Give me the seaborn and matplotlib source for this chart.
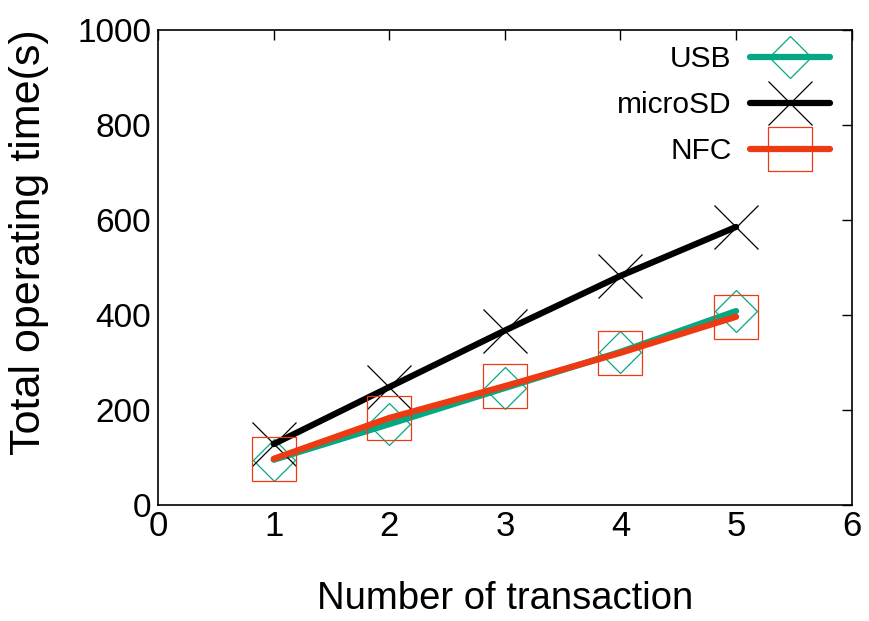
import numpy as np
import matplotlib
matplotlib.use("Agg")
import matplotlib.pyplot as plt
import pandas as pd
import seaborn as sns

transactions = [1, 2, 3, 4, 5]
usb = [95, 170, 246, 322, 408]
microsd = [128, 248, 367, 482, 585]
nfc = [97, 183, 250, 320, 396]

df = pd.DataFrame({"x": transactions, "USB": usb, "microSD": microsd, "NFC": nfc})

sns.set_style("white")
plt.rcParams['font.family'] = ['Liberation Sans', 'DejaVu Sans']
plt.rcParams['text.color'] = 'black'
plt.rcParams['axes.labelcolor'] = 'black'
plt.rcParams['xtick.color'] = 'black'
plt.rcParams['ytick.color'] = 'black'

fig = plt.figure(figsize=(8.69, 6.21), dpi=100)
ax = fig.add_axes([0.182, 0.187, 0.798, 0.765])

styles = [
    ("USB", "#05a882", "D", 21.5),
    ("microSD", "black", "x", 31.5),
    ("NFC", "#ee3a12", "s", 31.5),
]
for name, col, mk, ms in styles:
    sns.lineplot(data=df, x="x", y=name, ax=ax, color=col, lw=4.5, marker=mk, ms=ms,
                 mfc="none", mec=col, mew=0.9, label=name)

ax.set_xlim(0, 6)
ax.set_ylim(0, 1000)
ax.set_xticks(range(0, 7))
ax.set_yticks(range(0, 1001, 200))
ax.tick_params(direction="in", top=True, right=True, length=7, width=1, pad=6)
ax.tick_params(axis="y", labelsize=24, pad=5)
ax.tick_params(axis="x", labelsize=25, pad=4)
for s in ax.spines.values():
    s.set_color("black")
    s.set_linewidth(1.2)
ax.set_xlabel("Number of transaction", fontsize=27.5, labelpad=27)
ax.set_ylabel("Total operating time(s)", fontsize=31)
ax.yaxis.set_label_coords(-0.158, 0.553)

ax.legend(loc="upper right", frameon=False, markerfirst=False, fontsize=21.5,
          handlelength=2.7, handletextpad=0.6, labelspacing=0.6,
          borderaxespad=0.2, bbox_to_anchor=(0.995, 1.005))

fig.savefig("out.png", dpi=100)
